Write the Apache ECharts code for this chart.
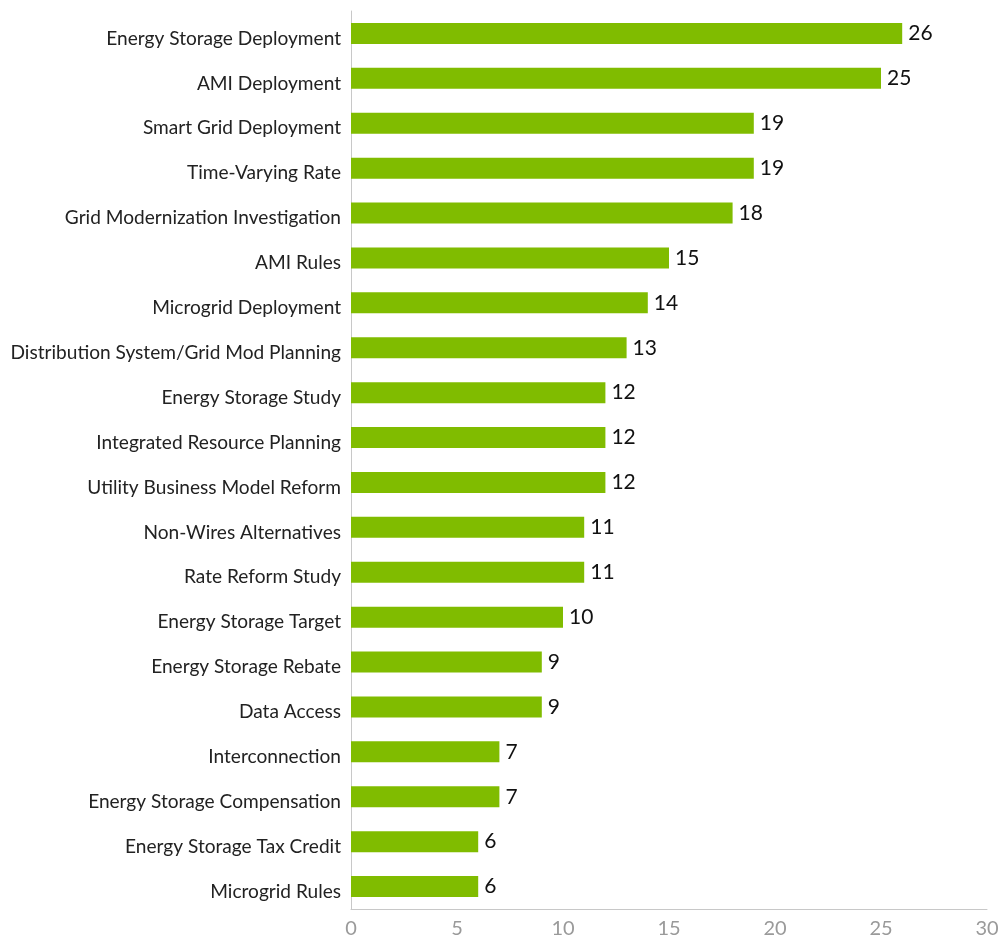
<!DOCTYPE html>
<html>
<head>
<meta charset="utf-8">
<script src="https://cdn.jsdelivr.net/npm/echarts@6/dist/echarts.min.js"></script>
<style>
  html, body { margin: 0; padding: 0; background: #fff; }
  #chart { width: 1001px; height: 937px; }
</style>
</head>
<body>
<div id="chart"></div>
<script>
// Policy actions, listed top to bottom
const categories = [
  "Energy Storage Deployment",
  "AMI Deployment",
  "Smart Grid Deployment",
  "Time-Varying Rate",
  "Grid Modernization Investigation",
  "AMI Rules",
  "Microgrid Deployment",
  "Distribution System/Grid Mod Planning",
  "Energy Storage Study",
  "Integrated Resource Planning",
  "Utility Business Model Reform",
  "Non-Wires Alternatives",
  "Rate Reform Study",
  "Energy Storage Target",
  "Energy Storage Rebate",
  "Data Access",
  "Interconnection",
  "Energy Storage Compensation",
  "Energy Storage Tax Credit",
  "Microgrid Rules"
];
const counts = [26, 25, 19, 19, 18, 15, 14, 13, 12, 12, 12, 11, 11, 10, 9, 9, 7, 7, 6, 6];
const xTicks = [0, 5, 10, 15, 20, 25, 30];

const chart = echarts.init(document.getElementById('chart'));
chart.setOption({
  animation: false,
  grid: {
    left: 351, right: 14, top: 11, bottom: 28,
    containLabel: false,
    outerBoundsMode: 'none'
  },
  xAxis: {
    type: 'value',
    min: xTicks[0],
    max: xTicks[xTicks.length - 1],
    interval: xTicks[1] - xTicks[0],
    axisLine: { show: true, lineStyle: { color: '#c8c8c8', width: 1 } },
    axisTick: { show: false },
    splitLine: { show: false },
    axisLabel: { color: '#9a9a9a', fontSize: 20, fontFamily: 'Lato', margin: 10 }
  },
  yAxis: {
    type: 'category',
    inverse: true,
    data: categories,
    axisLine: { show: true, lineStyle: { color: '#c8c8c8', width: 1 } },
    axisTick: { show: false },
    axisLabel: {
      color: '#222',
      fontSize: 19.1,
      fontFamily: 'Lato',
      margin: 10,
      // category names sit a little below the bar centres
      verticalAlign: 'top',
      lineHeight: 10
    }
  },
  series: [{
    type: 'bar',
    data: counts,
    barWidth: 21,
    itemStyle: { color: '#80bc00' },
    label: {
      show: true,
      position: 'right',
      distance: 6,
      color: '#111',
      fontSize: 21,
      fontFamily: 'Lato'
    }
  }]
});
</script>
</body>
</html>
